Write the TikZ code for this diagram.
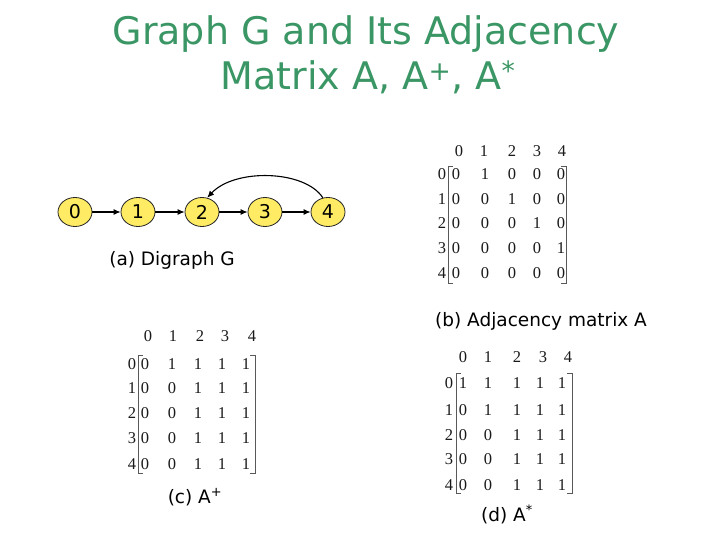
\documentclass[tikz,border=0pt]{standalone}
\usepackage{fontspec}
\setmainfont{Liberation Serif}
\newfontfamily\lblfont{DejaVu Sans}
\usetikzlibrary{shapes.geometric,arrows.meta}
\definecolor{titlegreen}{RGB}{58,150,100}
\definecolor{nodeyellow}{RGB}{255,236,100}
\begin{document}
\begin{tikzpicture}[x=1pt,y=-1pt,
 vtx/.style={ellipse,draw=black!85,line width=0.8pt,fill=nodeyellow,minimum width=34pt,minimum height=29pt,inner sep=0pt,font=\lblfont\fontsize{19}{19}\selectfont},
 edge/.style={-{Latex[length=7pt,width=6pt]},line width=1.1pt},
 ent/.style={font=\fontsize{16.5}{16.5}\selectfont,inner sep=0pt,anchor=center,text=black!90},
 brk/.style={draw=black!65,line width=0.8pt},
 lbl/.style={font=\lblfont\fontsize{18.5}{18.5}\selectfont,inner sep=0pt,anchor=base},
 ttl/.style={font=\lblfont\fontsize{38}{38}\selectfont,inner sep=0pt,anchor=base,text=titlegreen}]
\useasboundingbox (0,0) rectangle (720,540);
% title
\node[ttl] (t1) at (366,45) {Graph G and Its Adjacency};
\node[ttl] (t2) at (368,90) {Matrix A, A\textsuperscript{+}, A\textsuperscript{*}};
% graph
\foreach \i/\x in {0/75,1/138,2/202,3/265,4/328}
  \node[vtx] (n\i) at (\x,212) {\i};
\draw[edge] (n0) -- (n1);
\draw[edge] (n1) -- (n2);
\draw[edge] (n2) -- (n3);
\draw[edge] (n3) -- (n4);
\draw[edge] (n4.110) .. controls (305,170) and (235,168) .. (n2.70);
\node[lbl] (la) at (172,265) {(a) Digraph G};
% matrix A
\foreach \c/\x in {0/459,1/484,2/512,3/537,4/562} \node[ent] (Ah\c) at (\x,151) {\c};
\foreach \r/\y/\row in {0/174/{0,1,0,0,0},1/199/{0,0,1,0,0},2/223/{0,0,0,1,0},3/248/{0,0,0,0,1},4/273/{0,0,0,0,0}} {
  \node[ent] (Al\r) at (442,\y) {\r};
  \foreach \v [count=\c from 0] in \row {
    \pgfmathsetmacro{\ex}{{456,485,512,537,561}[\c]}
    \node[ent] (Ae\r\c) at (\ex,\y) {\v};
  }
}
\draw[brk] (453,166) -- (448,166) -- (448,283) -- (453,283);
\draw[brk] (561,166) -- (566,166) -- (566,283) -- (561,283);
\node[lbl] (lb) at (541,326) {(b) Adjacency matrix A};
% matrix A+
\foreach \c/\x in {0/148,1/173,2/200,3/225,4/252} \node[ent] (Ph\c) at (\x,336) {\c};
\foreach \r/\y/\row in {0/364/{0,1,1,1,1},1/388/{0,0,1,1,1},2/413/{0,0,1,1,1},3/438/{0,0,1,1,1},4/464/{0,0,1,1,1}} {
  \node[ent] (Pl\r) at (132,\y) {\r};
  \foreach \v [count=\c from 0] in \row {
    \pgfmathsetmacro{\ex}{{145,172,198,222,246}[\c]}
    \node[ent] (Pe\r\c) at (\ex,\y) {\v};
  }
}
\draw[brk] (143,355) -- (138,355) -- (138,473) -- (143,473);
\draw[brk] (250,355) -- (255,355) -- (255,473) -- (250,473);
\node[lbl] (lc) at (195,503) {(c) A\textsuperscript{+}};
% matrix A*
\foreach \c/\x in {0/463,1/488,2/517,3/543,4/568} \node[ent] (Sh\c) at (\x,357) {\c};
\foreach \r/\y/\row in {0/383/{1,1,1,1,1},1/410/{0,1,1,1,1},2/435/{0,0,1,1,1},3/459/{0,0,1,1,1},4/485/{0,0,1,1,1}} {
  \node[ent] (Sl\r) at (449,\y) {\r};
  \foreach \v [count=\c from 0] in \row {
    \pgfmathsetmacro{\ex}{{463,488,517,540,562}[\c]}
    \node[ent] (Se\r\c) at (\ex,\y) {\v};
  }
}
\draw[brk] (461,373) -- (456,373) -- (456,493) -- (461,493);
\draw[brk] (567,373) -- (572,373) -- (572,493) -- (567,493);
\node[lbl] (ld) at (507,521) {(d) A\textsuperscript{*}};
\end{tikzpicture}
\end{document}
